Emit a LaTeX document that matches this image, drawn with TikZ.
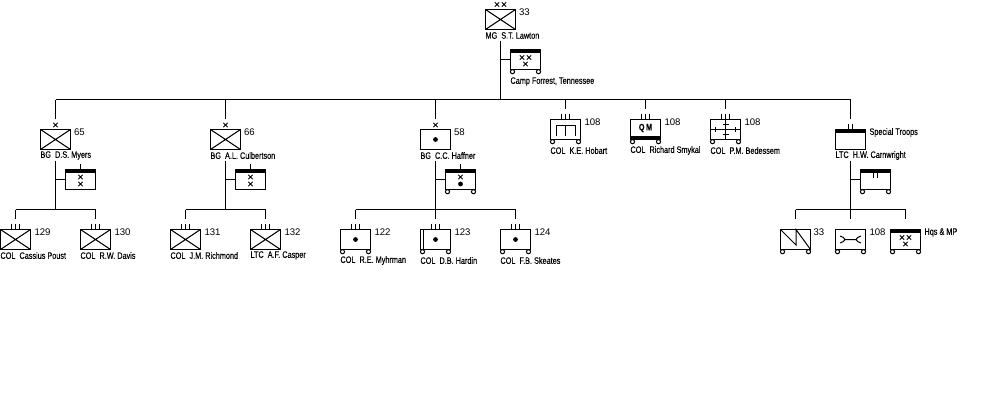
\documentclass[tikz,border=0pt]{standalone}
\usepackage{fontspec}
\setmainfont{Liberation Sans}
\newfontfamily\lblfont[FakeStretch=0.78,FakeBold=0.2]{Liberation Sans}
\newfontfamily\numfont{Liberation Sans}
% A drop line from a horizontal bus (#2) towards the top of unit #1, stopping short of it
\newcommand{\dropline}[2]{%
  \coordinate (#1-j) at (#1.north |- #2);
  \coordinate (#1-s) at ([yshift=7.875pt]#1.north);
  \draw[conn] (#1-j) -- (#1-s);
}
\tikzset{
  x=0.75pt, y=-0.75pt,
  every path/.style={line width=0.75pt},
  conn/.style={draw=black, line width=0.75pt},
  unitbox/.style={draw=black, line width=0.75pt, minimum width=22.5pt, minimum height=15pt, inner sep=0pt, outer sep=0pt},
  caption/.style={anchor=west, inner sep=0pt, font=\lblfont\fontsize{7pt}{7.5pt}\selectfont},
  numtag/.style={anchor=west, inner sep=0pt, font=\numfont\fontsize{7.2pt}{8pt}\selectfont},
  pics/xcross/.style={code={\draw (-15,-10) -- (15,10) (-15,10) -- (15,-10);}},
  pics/dot/.style={code={\fill (0,0) circle[radius=2.4];}},
  pics/wheels/.style={code={\draw[fill=white] (-13,12.2) circle[radius=2.1] (13,12.2) circle[radius=2.1];}},
  pics/hqbar/.style={code={\fill (-15,-10) rectangle (15,-6.5);}},
  pics/supbar/.style={code={\fill (-15,6.5) rectangle (15,10);}},
  pics/one/.style={code={\draw (0,0) -- (0,5);}},
  pics/two/.style={code={\draw (-2,0) -- (-2,5) (2,0) -- (2,5);}},
  pics/three/.style={code={\draw (-4,0) -- (-4,5) (0,0) -- (0,5) (4,0) -- (4,5);}},
  pics/starx/.style={code={\draw[line width=0.6pt] (-2.2,-2.2) -- (2.2,2.2) (-2.2,2.2) -- (2.2,-2.2);}},
  pics/twox/.style={code={\path (-3.5,0) pic{starx} (3.5,0) pic{starx};}},
}
\begin{document}
\begin{tikzpicture}
\useasboundingbox (0,0) rectangle (1000,400);

% Division headquarters
\node[unitbox] (div) at (500.5,19.5) {};
\path (div.center) pic{xcross} (500.5,4.5) pic{twox};
\node[numtag] (divn) at (518.5,12.5) {33};
\node[caption] (divc) at (485,35.5) {MG~~S.T. Lawton};
\node[unitbox] (divhq) at (525.5,59.5) {};
\path (divhq.center) pic{hqbar} pic{wheels} (525.5,57.5) pic{twox} (525.5,64) pic{starx};
\node[caption] (divhqc) at (510,81.5) {Camp Forrest, Tennessee};
\coordinate (divtop) at (500.5,41);
\coordinate (busl) at (55.5,99.5);
\coordinate (busr) at (850.5,99.5);
\coordinate (divbus) at (divtop |- busl);
\draw[conn] (divtop) -- (divbus);
\draw[conn] (divhq.west) -- (divhq.west -| divtop);

% Main horizontal bus
\draw[conn] (busl) -- (busr);

% Brigade 65
\node[unitbox] (a) at (55.5,139.5) {};
\path (a.center) pic{xcross} (55.5,125) pic{starx};
\node[numtag] (an) at (73.5,132.5) {65};
\node[caption] (ac) at (40,155.5) {BG~~D.S. Myers};
\dropline{a}{busl}
\coordinate (at) at (55.5,161);
\coordinate (ab) at (55.5,209.5);
\draw[conn] (at) -- (ab);
\node[unitbox] (ahq) at (80.5,179.5) {};
\path (ahq.center) pic{hqbar} (80.5,177) pic{starx} (80.5,184) pic{starx} (80.5,163.5) pic{one};
\draw[conn] (ahq.west) -- (ahq.west -| at);
\node[unitbox] (a1) at (15.5,239.5) {};
\node[unitbox] (a2) at (95.5,239.5) {};
\draw[conn] (a1.north |- ab) -- (a2.north |- ab);
\path (a1.center) pic{xcross} (15.5,223.5) pic{three};
\node[numtag] (a1n) at (34,232.5) {129};
\node[caption] (a1c) at (0,255.5) {COL~~Cassius Poust};
\dropline{a1}{ab}
\path (a2.center) pic{xcross} (95.5,223.5) pic{three};
\node[numtag] (a2n) at (114,232.5) {130};
\node[caption] (a2c) at (80,255.5) {COL~~R.W. Davis};
\dropline{a2}{ab}

% Brigade 66
\node[unitbox] (b) at (225.5,139.5) {};
\path (b.center) pic{xcross} (225.5,125) pic{starx};
\node[numtag] (bn) at (243.5,132.5) {66};
\node[caption] (bc) at (210,155.5) {BG~~A.L. Culbertson};
\dropline{b}{busl}
\coordinate (bt) at (225.5,161);
\coordinate (bb) at (225.5,209.5);
\draw[conn] (bt) -- (bb);
\node[unitbox] (bhq) at (250.5,179.5) {};
\path (bhq.center) pic{hqbar} (250.5,177) pic{starx} (250.5,184) pic{starx} (250.5,163.5) pic{one};
\draw[conn] (bhq.west) -- (bhq.west -| bt);
\node[unitbox] (b1) at (185.5,239.5) {};
\node[unitbox] (b2) at (265.5,239.5) {};
\draw[conn] (b1.north |- bb) -- (b2.north |- bb);
\path (b1.center) pic{xcross} (185.5,223.5) pic{three};
\node[numtag] (b1n) at (204,232.5) {131};
\node[caption] (b1c) at (170,255.5) {COL~~J.M. Richmond};
\dropline{b1}{bb}
\path (b2.center) pic{xcross} (265.5,223.5) pic{three};
\node[numtag] (b2n) at (284,232.5) {132};
\node[caption] (b2c) at (250,255.5) {LTC~~A.F. Casper};
\dropline{b2}{bb}

% Artillery brigade 58
\node[unitbox] (c) at (435.5,139.5) {};
\path (c.center) pic{dot} (435.5,125) pic{starx};
\node[numtag] (cn) at (453.5,132.5) {58};
\node[caption] (cc) at (420,155.5) {BG~~C.C. Haffner};
\dropline{c}{busl}
\coordinate (ct) at (435.5,161);
\coordinate (cb) at (435.5,209.5);
\draw[conn] (ct) -- (cb);
\node[unitbox] (chq) at (460.5,179.5) {};
\path (chq.center) pic{hqbar} pic{wheels} (460.5,177) pic{starx} (460.5,184) pic{dot} (460.5,163.5) pic{one};
\draw[conn] (chq.west) -- (chq.west -| ct);
\node[unitbox] (c1) at (355.5,239.5) {};
\node[unitbox] (c2) at (435.5,239.5) {};
\node[unitbox] (c3) at (515.5,239.5) {};
\draw[conn] (c1.north |- cb) -- (c3.north |- cb);
\path (c1.center) pic{dot} pic{wheels} (355.5,223.5) pic{three};
\node[numtag] (c1n) at (374,232.5) {122};
\node[caption] (c1c) at (340,260.5) {COL~~R.E. Myhrman};
\dropline{c1}{cb}
\path (c2.center) pic{dot} pic{wheels} (435.5,223.5) pic{three};
\draw (423.5,229.5) -- (423.5,249.5);
\node[numtag] (c2n) at (454,232.5) {123};
\node[caption] (c2c) at (420,260.5) {COL~~D.B. Hardin};
\dropline{c2}{cb}
\path (c3.center) pic{dot} pic{wheels} (515.5,223.5) pic{three};
\node[numtag] (c3n) at (534,232.5) {124};
\node[caption] (c3c) at (500,260.5) {COL~~F.B. Skeates};
\dropline{c3}{cb}

% Engineer regiment
\node[unitbox] (e) at (565.5,129.5) {};
\path (e.center) pic{wheels} (565.5,113.5) pic{three};
\draw (556,136) -- (556,125.5) -- (575,125.5) -- (575,136) (565.5,125.5) -- (565.5,136);
\node[numtag] (en) at (584,122.5) {108};
\node[caption] (ec) at (550,150.5) {COL~~K.E. Hobart};
\dropline{e}{busl}

% Quartermaster regiment
\node[unitbox] (q) at (645.5,129.5) {};
\path (q.center) pic{supbar} pic{wheels} (645.5,113.5) pic{three};
\node[inner sep=0pt, font=\lblfont\bfseries\fontsize{7pt}{7.5pt}\selectfont] (ql) at (645.5,128) {Q\,M};
\node[numtag] (qn) at (664,122.5) {108};
\node[caption] (qc) at (630,150.5) {COL~~Richard Smykal};
\dropline{q}{busl}

% Medical regiment
\node[unitbox] (m) at (725.5,129.5) {};
\path (m.center) pic{wheels} (725.5,113.5) pic{three};
\draw (710.5,129.5) -- (740.5,129.5) (725.5,119.5) -- (725.5,139.5)
      (715.5,127) -- (715.5,132) (735.5,127) -- (735.5,132)
      (722.5,124.5) -- (728.5,124.5) (722.5,134.5) -- (728.5,134.5);
\node[numtag] (mn) at (744,122.5) {108};
\node[caption] (mc) at (710,150.5) {COL~~P.M. Bedessem};
\dropline{m}{busl}

% Special troops
\node[unitbox] (s) at (850.5,139.5) {};
\path (s.center) pic{hqbar} (850.5,123.5) pic{two};
\node[caption] (sn) at (869,132.5) {Special Troops};
\node[caption] (sc) at (835,155.5) {LTC~~H.W. Carnwright};
\dropline{s}{busr}
\coordinate (st) at (850.5,161);
\coordinate (sb) at (850.5,209.5);
\draw[conn] (st) -- (sb);
\node[unitbox] (shq) at (875.5,179.5) {};
\path (shq.center) pic{hqbar} pic{wheels} (875.5,173) pic{two};
\draw[conn] (shq.west) -- (shq.west -| st);
\node[unitbox] (s1) at (795.5,239.5) {};
\node[unitbox] (s2) at (850.5,239.5) {};
\node[unitbox] (s3) at (905.5,239.5) {};
\draw[conn] (s1.north |- sb) -- (s3.north |- sb);
\path (s1.center) pic{wheels};
\draw (780.5,229.5) -- (796,245) -- (796,229.5) -- (810.5,249.5);
\node[numtag] (s1n) at (813,232.5) {33};
\dropline{s1}{sb}
\path (s2.center) pic{wheels};
% spanner of the maintenance company
\draw (840,236) .. controls (843,236.5) and (844,238) .. (845,239.5)
      .. controls (844,241) and (843,242.5) .. (840,243)
      (845,239.5) -- (856,239.5)
      (861,236) .. controls (858,236.5) and (857,238) .. (856,239.5)
      .. controls (857,241) and (858,242.5) .. (861,243);
\node[numtag] (s2n) at (869,232.5) {108};
\dropline{s2}{sb}
\path (s3.center) pic{hqbar} pic{wheels} (905.5,237.5) pic{twox} (905.5,244) pic{starx};
\node[caption] (s3n) at (924,232.5) {Hqs \& MP};
\dropline{s3}{sb}
\end{tikzpicture}
\end{document}
